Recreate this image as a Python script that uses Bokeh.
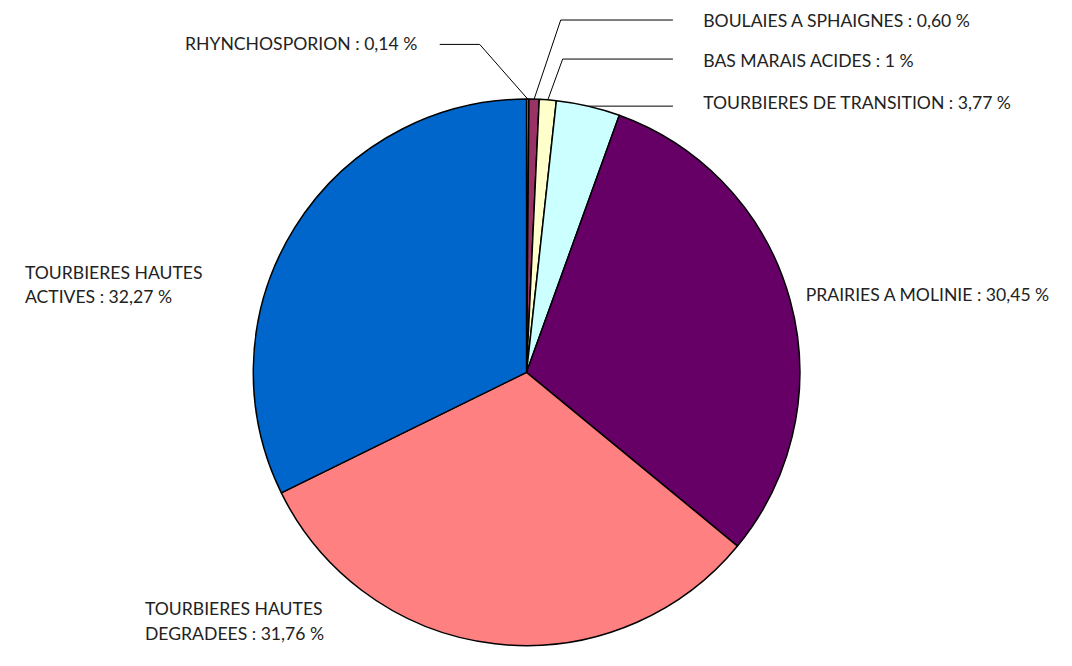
import math
from bokeh.plotting import figure
from bokeh.models import Range1d, ColumnDataSource
from bokeh.core.properties import value
from bokeh.embed import file_html
from bokeh.resources import INLINE

# ---- data ----
categories = ["RHYNCHOSPORION", "BOULAIES A SPHAIGNES", "BAS MARAIS ACIDES",
              "TOURBIERES DE TRANSITION", "PRAIRIES A MOLINIE",
              "TOURBIERES HAUTES\nDEGRADEES", "TOURBIERES HAUTES\nACTIVES"]
percents = [0.14, 0.60, 1, 3.77, 30.45, 31.76, 32.27]
colors = ["#99CCFF", "#993366", "#FFFFCC", "#CCFFFF", "#660066", "#FF8080", "#0066CC"]

W, H = 1056, 650
FONT = "Lato"
S = H / 666.0  # uniform scale so the 1072x666 layout fits the figure

def sy(y):  # layout y (from top) -> data y
    return 666 - y

x0 = -13
p = figure(width=W, height=H, output_backend="svg", toolbar_location=None,
           x_range=Range1d(x0, x0 + W / S), y_range=Range1d(0, 666),
           min_border=0, outline_line_color=None)
p.axis.visible = False
p.grid.visible = False

cx, cy, r = 526, sy(381), 280
total = sum(percents)
starts, ends, mids = [], [], []
cum = 0.0
for v in percents:
    a0 = math.pi / 2 - 2 * math.pi * cum / total
    cum += v
    a1 = math.pi / 2 - 2 * math.pi * cum / total
    starts.append(a0); ends.append(a1); mids.append((a0 + a1) / 2)

src = ColumnDataSource(dict(start=starts, end=ends, color=colors))
p.wedge(x=cx, y=cy, radius=r, start_angle="start", end_angle="end", direction="clock",
        fill_color="color", line_color="black", line_width=1.5, source=src)

def fmt(v):
    s = str(int(v)) if float(v).is_integer() else f"{v:.2f}".replace(".", ",")
    return s + " %"

labels = [c + " : " + fmt(v) for c, v in zip(categories, percents)]

# label placement (layout px)
label_x = [176, 707, 707, 707, 812, 135, 12]
label_y = [44, 20, 61, 104, 301, 636, 291]

p.text(x=label_x, y=[sy(y) for y in label_y], text=labels,
       text_font=value(FONT), text_font_size=f"{18 * S:.1f}px", text_color="#222222",
       text_baseline="middle", text_align="left", text_line_height=1.18)

def edge(i):
    return cx + r * math.cos(mids[i]), cy + r * math.sin(mids[i])

# leader lines for the small slices
ex, ey = edge(0)
p.line([ex, 478, 437], [ey, sy(45), sy(45)], line_color="black", line_width=1)
ex, ey = edge(1)
p.line([ex, 561, 676], [ey, sy(20), sy(20)], line_color="black", line_width=1)
ex, ey = edge(2)
p.line([ex, 563, 676], [ey, sy(60), sy(60)], line_color="black", line_width=1)
ex, ey = edge(3)
p.line([ex, 676], [ey, ey], line_color="black", line_width=1)

open("out.html", "w").write(file_html(p, INLINE))
